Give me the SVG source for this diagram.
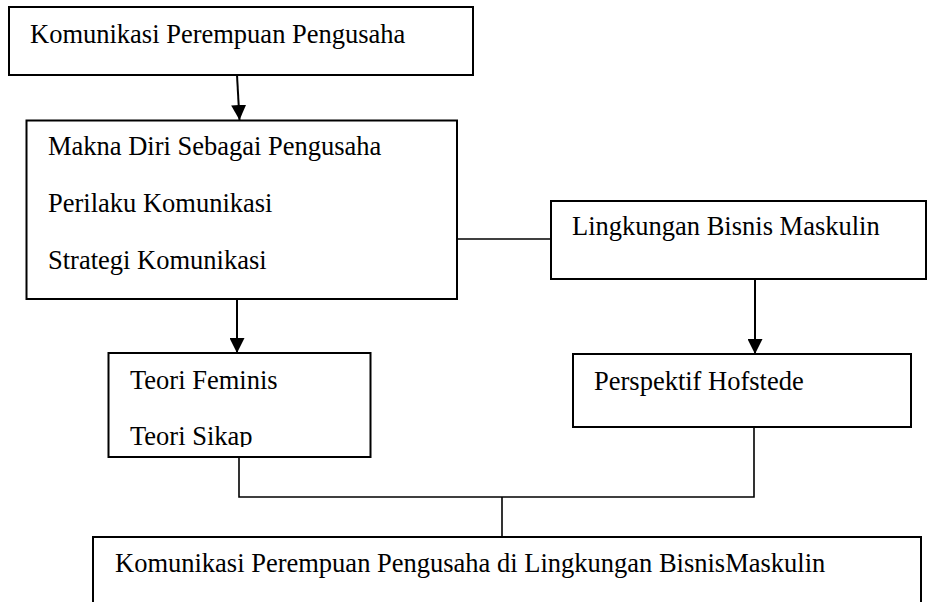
<svg xmlns="http://www.w3.org/2000/svg" width="928" height="602" viewBox="0 0 928 602">
<style>
.box{fill:#fff;stroke:#000;stroke-width:2}
.t{font-family:"Liberation Serif","Times New Roman",serif;font-size:26.5px;fill:#000}
.ln{fill:none;stroke:#000;stroke-width:1.6}
.ar{fill:none;stroke:#000;stroke-width:2}
</style>
<defs>
<marker id="ah" markerUnits="userSpaceOnUse" markerWidth="15" markerHeight="15" refX="15" refY="7.5" orient="auto">
<path d="M0,0 L15,7.5 L0,15 z" fill="#000"/>
</marker>
<clipPath id="clipTeori"><rect x="108" y="353" width="263" height="94"/></clipPath>
</defs>
<rect width="928" height="602" fill="#fff"/>
<g id="connectors">
<path class="ar" d="M237,75 L239.5,120" marker-end="url(#ah)"/>
<path class="ar" d="M237,299 L237,353" marker-end="url(#ah)"/>
<path class="ar" d="M755,279 L755,354" marker-end="url(#ah)"/>
<path class="ln" d="M457,239 L551,239"/>
<path class="ln" d="M239,457 L239,497 L754,497 L754,427"/>
<path class="ln" d="M502,497 L502,537"/>
</g>
<g id="node-top">
<rect class="box" x="9" y="7" width="464" height="68"/>
<text class="t" x="30" y="43">Komunikasi Perempuan Pengusaha</text>
</g>
<g id="node-makna">
<rect class="box" x="26.5" y="120.5" width="430.5" height="178.5"/>
<text class="t" x="48" y="155">Makna Diri Sebagai Pengusaha</text>
<text class="t" x="48" y="212">Perilaku Komunikasi</text>
<text class="t" x="48" y="269">Strategi Komunikasi</text>
</g>
<g id="node-lingkungan">
<rect class="box" x="551" y="201" width="375" height="78"/>
<text class="t" x="572" y="235">Lingkungan Bisnis Maskulin</text>
</g>
<g id="node-teori">
<rect class="box" x="108.5" y="353" width="262" height="104"/>
<g clip-path="url(#clipTeori)">
<text class="t" x="130" y="389">Teori Feminis</text>
<text class="t" x="130" y="445">Teori Sikap</text>
</g>
</g>
<g id="node-hofstede">
<rect class="box" x="573" y="354" width="338" height="73"/>
<text class="t" x="594" y="390">Perspektif Hofstede</text>
</g>
<g id="node-bottom">
<rect class="box" x="93" y="537" width="828" height="80"/>
<text class="t" x="115" y="572">Komunikasi Perempuan Pengusaha di Lingkungan BisnisMaskulin</text>
</g>
</svg>
